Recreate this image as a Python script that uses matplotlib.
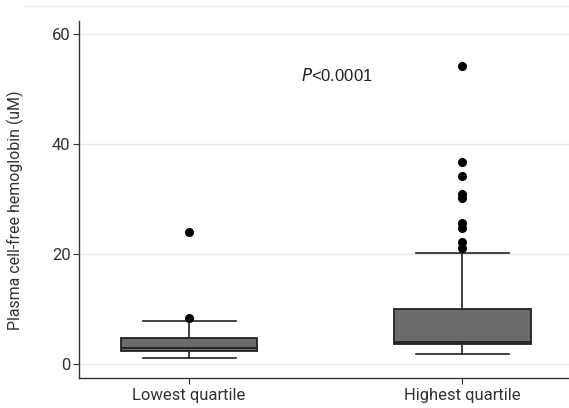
import matplotlib
matplotlib.use("Agg")
import matplotlib.pyplot as plt
from matplotlib.lines import Line2D

plt.rcParams['font.family'] = ['Roboto', 'DejaVu Sans']

categories = ["Lowest quartile", "Highest quartile"]
q1 = [2.5, 3.6]
median = [3.0, 4.1]
q3 = [4.7, 10.1]
whisker_low = [1.1, 1.9]
whisker_high = [7.8, 20.2]
outliers = [[8.5, 24.1], [54.2, 36.8, 34.2, 31.0, 30.3, 25.6, 24.8, 22.2, 21.2]]
yticks = [0, 20, 40, 60]
ylabel = "Plasma cell-free hemoglobin (uM)"

stats = []
for i, c in enumerate(categories):
    stats.append(dict(label=c, q1=q1[i], med=median[i], q3=q3[i],
                      whislo=whisker_low[i], whishi=whisker_high[i], fliers=outliers[i]))

fig = plt.figure(figsize=(5.69, 4.08), dpi=100)
ax = fig.add_axes([0.1388, 0.0735, 0.8612, 0.875])
ec = "#222222"
ax.bxp(stats, positions=[1, 2], widths=0.5, patch_artist=True, showfliers=True,
       boxprops=dict(facecolor="#6b6b6b", edgecolor=ec, linewidth=1.3),
       medianprops=dict(color=ec, linewidth=1.3),
       whiskerprops=dict(color=ec, linewidth=1.2),
       capprops=dict(color=ec, linewidth=1.2),
       capwidths=0.34,
       flierprops=dict(marker='o', markerfacecolor='black', markeredgecolor='black', markersize=5.5))

ax.set_xlim(0.597, 2.39)
ax.set_ylim(-2.5, 62.4)
ax.set_yticks(yticks)
ax.set_xticks([1, 2])
ax.set_xticklabels(categories)
ax.yaxis.grid(True, color="#e8e8e8", linewidth=1.0)
ax.set_axisbelow(True)
for s in ["top", "right"]:
    ax.spines[s].set_visible(False)
for s in ["left", "bottom"]:
    ax.spines[s].set_color("#333333")
    ax.spines[s].set_linewidth(1.0)
ax.tick_params(axis='both', colors="#333333", labelsize=12, length=4)
ax.tick_params(axis='y', pad=2)
ax.set_ylabel(ylabel, fontsize=11.4, color="#333333")
ax.yaxis.set_label_coords(-0.112, 0.47)

ax.text(1.41, 52.5, r"$\it{P}$<0.0001", fontsize=12, va='center', ha='left', color="#222222",
        family='Liberation Sans')

fig.add_artist(Line2D([0.04, 1.0], [0.985, 0.985], color="#f0f0f0", linewidth=1.0, transform=fig.transFigure))

fig.savefig("out.png", dpi=100)
